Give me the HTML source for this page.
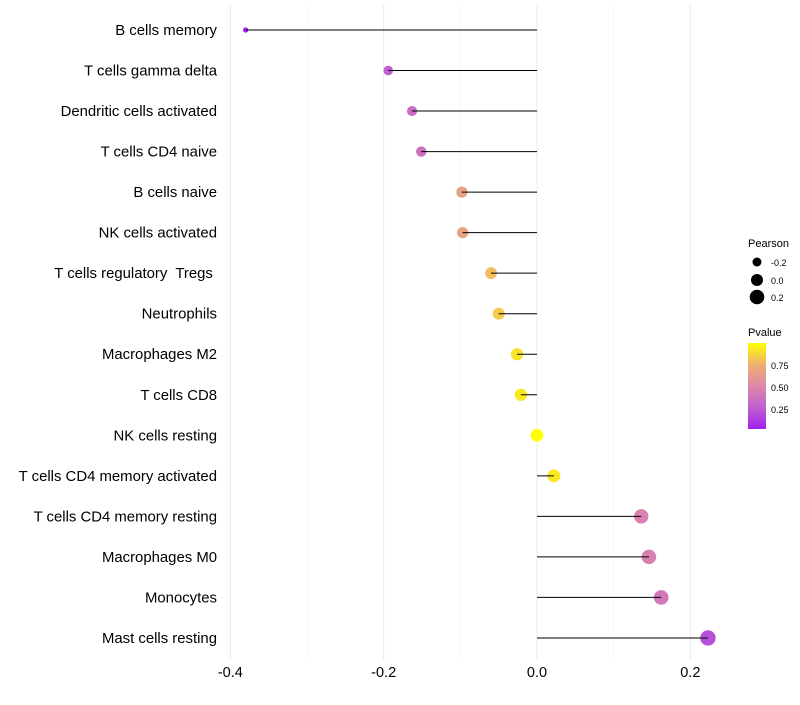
<!DOCTYPE html>
<html><head><meta charset="utf-8"><style>
body{margin:0;background:#fff;font-family:"Liberation Sans",sans-serif}
</style></head><body>
<svg id="c" width="800" height="700" xmlns="http://www.w3.org/2000/svg">
<defs><linearGradient id="pg" x1="0" y1="1" x2="0" y2="0">
<stop offset="0" stop-color="#a020f0"/><stop offset="0.25" stop-color="#c060d0"/><stop offset="0.5" stop-color="#dd88aa"/><stop offset="0.75" stop-color="#eeb070"/><stop offset="1" stop-color="#ffff00"/>
</linearGradient></defs>
<g id="grid"></g><g id="dots"></g><g id="marks"></g><g id="labels"></g>
<g font-size="11" fill="#000">
<text x="748" y="247" font-size="11">Pearson</text>
<circle cx="757" cy="262" r="4.5"/><text x="771" y="266" font-size="9">-0.2</text>
<circle cx="757" cy="280" r="6"/><text x="771" y="284" font-size="9">0.0</text>
<circle cx="757" cy="297" r="7.3"/><text x="771" y="301" font-size="9">0.2</text>
<text x="748" y="336" font-size="11">Pvalue</text>
<rect x="748" y="343" width="18" height="86" fill="url(#pg)"/>
<text x="771" y="369" font-size="9">0.75</text>
<text x="771" y="391" font-size="9">0.50</text>
<text x="771" y="413" font-size="9">0.25</text>
</g>
</svg>
<script>
const categories=["B cells memory","T cells gamma delta","Dendritic cells activated","T cells CD4 naive","B cells naive","NK cells activated","T cells regulatory  Tregs ","Neutrophils","Macrophages M2","T cells CD8","NK cells resting","T cells CD4 memory activated","T cells CD4 memory resting","Macrophages M0","Monocytes","Mast cells resting"];
const pearson=[-0.38,-0.194,-0.163,-0.151,-0.098,-0.097,-0.060,-0.050,-0.026,-0.021,0.0,0.022,0.136,0.146,0.162,0.223];
const pvalues=[0.05,0.28,0.36,0.38,0.68,0.68,0.8,0.84,0.92,0.93,1.0,0.93,0.48,0.48,0.42,0.22];
const xTicks=[-0.4,-0.2,0.0,0.2];
const xTickLabels=["-0.4","-0.2","0.0","0.2"];
const xMinor=[-0.3,-0.1,0.1];
const NS="http://www.w3.org/2000/svg";
const x=v=>537+v*766.67;
const y=i=>30+i*40.53;
const r=v=>Math.sqrt(Math.max(1.5,40+86.7*v));
const stops=[[0,[160,32,240]],[0.25,[192,96,208]],[0.5,[221,136,170]],[0.75,[238,176,112]],[1,[255,255,0]]];
function col(p){const t=Math.min(1,Math.max(0,(p-0.045)/(1-0.045)));
 for(let k=1;k<stops.length;k++){if(t<=stops[k][0]){const a=stops[k-1],b=stops[k];const u=(t-a[0])/(b[0]-a[0]);
  return `rgb(${a[1].map((q,j)=>Math.round(q+(b[1][j]-q)*u)).join(',')})`;}}
 return 'rgb(255,255,0)';}
function mk(tag,at,parent){const e=document.createElementNS(NS,tag);for(const k in at)e.setAttribute(k,at[k]);document.getElementById(parent).appendChild(e);return e;}
xMinor.forEach(v=>{const l=mk('line',{x1:x(v),x2:x(v),y1:5,y2:660,stroke:'#f4f4f4','stroke-width':0.6},'grid');

});
xTicks.forEach((v,i)=>{const l=mk('line',{x1:x(v),x2:x(v),y1:5,y2:660,stroke:'#ebebeb','stroke-width':1},'grid');


const t=mk('text',{x:x(v),y:677,'text-anchor':'middle','font-size':14.5,fill:'#000'},'labels');t.textContent=xTickLabels[i];

});
categories.forEach((c,i)=>{const t=mk('text',{x:217,y:y(i)+5,'text-anchor':'end','font-size':14.9,fill:'#000'},'labels');t.textContent=c;


t.style.whiteSpace='pre';
const d=mk('circle',{cx:x(pearson[i]),cy:y(i),r:r(pearson[i]),fill:col(pvalues[i])},'dots');


const l=mk('line',{x1:x(0),x2:x(pearson[i]),y1:y(i),y2:y(i),stroke:'#000','stroke-width':1},'marks');

});
</script>
</body></html>
